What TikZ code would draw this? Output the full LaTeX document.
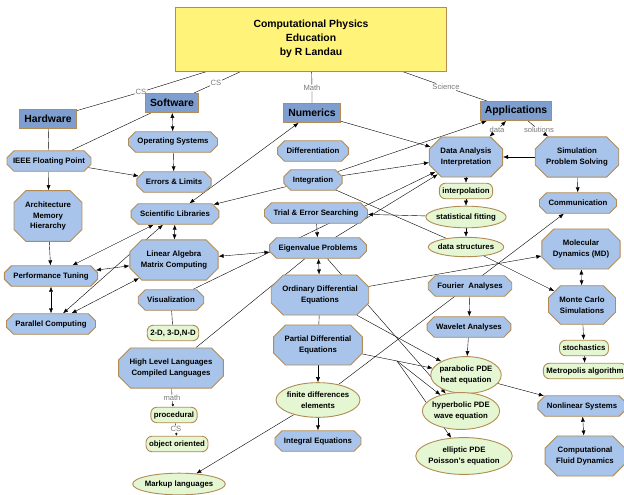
\documentclass[tikz,border=0pt]{standalone}
\usepackage{fontspec}
\setmainfont{Liberation Sans}
\usepackage{tikz}
\usetikzlibrary{arrows.meta}
\usetikzlibrary{shapes.geometric}
\usetikzlibrary{backgrounds}

\definecolor{conceptblue}{RGB}{168,196,234}
\definecolor{topblue}{RGB}{125,158,206}
\definecolor{conceptedge}{RGB}{178,140,84}
\definecolor{leafgreen}{RGB}{228,246,210}
\definecolor{titleyellow}{RGB}{255,243,122}
\definecolor{linkgray}{RGB}{120,120,120}

% octagon with 45 degree corners cut off
\makeatletter
\pgfkeys{/pgf/octagon chamfer/.initial=7pt}
\pgfdeclareshape{conceptoct}{%
  \inheritsavedanchors[from=rectangle]%
  \inheritanchor[from=rectangle]{center}%
  \inheritanchor[from=rectangle]{text}%
  \inheritanchor[from=rectangle]{base}%
  \inheritanchor[from=rectangle]{north}%
  \inheritanchor[from=rectangle]{south}%
  \inheritanchor[from=rectangle]{east}%
  \inheritanchor[from=rectangle]{west}%
  \savedmacro\octcut{%
    \pgfmathsetlength\pgf@xc{\pgfkeysvalueof{/pgf/octagon chamfer}}%
    \edef\octcut{\the\pgf@xc}%
  }%
  \anchorborder{%
    \edef\oct@dx{\the\pgf@x}\edef\oct@dy{\the\pgf@y}%
    \pgf@process{\southwest}\edef\oct@swx{\the\pgf@x}\edef\oct@swy{\the\pgf@y}%
    \pgf@process{\northeast}\edef\oct@nex{\the\pgf@x}\edef\oct@ney{\the\pgf@y}%
    \pgfmathsetmacro\oct@a{(\oct@nex-(\oct@swx))/2}%
    \pgfmathsetmacro\oct@b{(\oct@ney-(\oct@swy))/2}%
    \pgfmathsetmacro\oct@c{min(\octcut,\oct@a,\oct@b)}%
    \pgfmathsetmacro\oct@ux{abs(\oct@dx)}%
    \pgfmathsetmacro\oct@uy{abs(\oct@dy)}%
    \pgfmathsetmacro\oct@m{max(\oct@ux/\oct@a,\oct@uy/\oct@b,(\oct@ux+\oct@uy)/(\oct@a+\oct@b-\oct@c),0.0001)}%
    \pgfmathsetmacro\oct@px{(\oct@nex+(\oct@swx))/2+(\oct@dx)/\oct@m}%
    \pgfmathsetmacro\oct@py{(\oct@ney+(\oct@swy))/2+(\oct@dy)/\oct@m}%
    \pgf@x=\oct@px pt\relax
    \pgf@y=\oct@py pt\relax
  }%
  \backgroundpath{%
    \pgfmathsetlength\pgf@xc{\pgfkeysvalueof{/pgf/outer xsep}}%
    \pgfmathsetlength\pgf@yc{\pgfkeysvalueof{/pgf/outer ysep}}%
    \pgf@process{\southwest}\advance\pgf@x by\pgf@xc\advance\pgf@y by\pgf@yc
    \edef\oct@xa{\the\pgf@x}\edef\oct@ya{\the\pgf@y}%
    \pgf@process{\northeast}\advance\pgf@x by-\pgf@xc\advance\pgf@y by-\pgf@yc
    \edef\oct@xb{\the\pgf@x}\edef\oct@yb{\the\pgf@y}%
    \pgfmathsetmacro\oct@c{min(\octcut,(\oct@yb-(\oct@ya))/2,(\oct@xb-(\oct@xa))/2)}%
    \pgfmathsetmacro\oct@xaa{\oct@xa+\oct@c}\pgfmathsetmacro\oct@xbb{\oct@xb-\oct@c}%
    \pgfmathsetmacro\oct@yaa{\oct@ya+\oct@c}\pgfmathsetmacro\oct@ybb{\oct@yb-\oct@c}%
    \pgfpathmoveto{\pgfpoint{\oct@xaa pt}{\oct@ya}}%
    \pgfpathlineto{\pgfpoint{\oct@xbb pt}{\oct@ya}}%
    \pgfpathlineto{\pgfpoint{\oct@xb}{\oct@yaa pt}}%
    \pgfpathlineto{\pgfpoint{\oct@xb}{\oct@ybb pt}}%
    \pgfpathlineto{\pgfpoint{\oct@xbb pt}{\oct@yb}}%
    \pgfpathlineto{\pgfpoint{\oct@xaa pt}{\oct@yb}}%
    \pgfpathlineto{\pgfpoint{\oct@xa}{\oct@ybb pt}}%
    \pgfpathlineto{\pgfpoint{\oct@xa}{\oct@yaa pt}}%
    \pgfpathclose
  }%
}
\makeatother

\begin{document}
\begin{tikzpicture}[x=1pt, y=-1pt,
    >={Latex[length=5pt,width=4pt]},
    font=\fontsize{7.8}{10.8}\selectfont\bfseries,
    concept/.style={conceptoct, octagon chamfer=7pt, draw=conceptedge, line width=0.9pt,
        fill=conceptblue, align=center, inner xsep=9pt, inner ysep=1pt, minimum height=20.5pt},
    bigconcept/.style={concept, octagon chamfer=12pt, inner xsep=11pt, inner ysep=11pt},
    topic/.style={rectangle, draw=conceptedge, line width=0.9pt, fill=topblue,
        font=\fontsize{10.4}{12}\selectfont\bfseries, inner xsep=4.5pt, minimum height=19pt},
    leaf/.style={rectangle, rounded corners=6pt, draw=conceptedge, line width=0.9pt, fill=leafgreen,
        inner xsep=3pt, minimum height=15.5pt},
    leafoval/.style={ellipse, draw=conceptedge, line width=0.9pt, fill=leafgreen, align=center,
        inner xsep=-1.5pt, inner ysep=4pt},
    linkword/.style={text=linkgray, font=\fontsize{7.6}{9}\selectfont, inner sep=0.5pt},
    link/.style={line width=0.6pt},
    tinytip/.style={-{Latex[length=2.5pt,width=2.5pt]}}]
\useasboundingbox (0,0) rectangle (624,495);

% title and main branches
\node[rectangle, draw=conceptedge, line width=0.9pt, fill=titleyellow, minimum width=271pt, minimum height=64pt,
    align=center, font=\fontsize{10.4}{14}\selectfont\bfseries] (title) at (311,39)
    {Computational Physics\\Education\\by R Landau};
\node[topic] (hardware) at (48,119) {Hardware};
\node[topic] (software) at (172,103) {Software};
\node[topic] (numerics) at (312,113) {Numerics};
\node[topic] (applications) at (516,111) {Applications};

\node[linkword] (lblcs1) at (141,92) {CS};
\node[linkword] (lblcs2) at (216,83) {CS};
\node[linkword] (lblmath) at (312,88) {Math};
\node[linkword] (lblsci) at (446,87) {Science};
\node[linkword] (lbldata) at (497,130) {data};
\node[linkword] (lblsol) at (539,130) {solutions};
\node[linkword] (lblmath2) at (172,398) {math};
\node[linkword] (lblcs3) at (176,429) {CS};

% hardware and software
\node[concept, inner xsep=6pt] (ieee) at (49,161) {IEEE Floating Point};
\node[concept] (opsys) at (173,142) {Operating Systems};
\node[concept] (errors) at (174,182) {Errors \& Limits};
\node[bigconcept] (arch) at (48,216) {Architecture\\Memory\\Hierarchy};
\node[concept] (scilib) at (175,214) {Scientific Libraries};
\node[concept] (perf) at (51,276) {Performance Tuning};
\node[bigconcept] (linalg) at (174,260) {Linear Algebra\\Matrix Computing};
\node[concept] (parallel) at (51,324) {Parallel Computing};
\node[concept] (visual) at (171,300) {Visualization};
\node[leaf] (dims) at (173,333) {2-D, 3-D,N-D};
\node[bigconcept] (highlev) at (171,368) {High Level Languages\\Compiled Languages};
\node[leaf] (procedural) at (174,415) {procedural};
\node[leaf] (objorient) at (177,444) {object oriented};
\node[leafoval] (markup) at (179,484) {Markup languages};

% numerics
\node[concept] (diff) at (313,151) {Differentiation};
\node[concept] (integ) at (313,180) {Integration};
\node[concept] (trial) at (316,213) {Trial \& Error Searching};
\node[concept] (eigen) at (318,248) {Eigenvalue Problems};
\node[bigconcept] (ode) at (320,295) {Ordinary Differential\\Equations};
\node[bigconcept] (pde) at (318,345) {Partial Differential\\Equations};
\node[leafoval] (findiff) at (318,400) {finite differences\\elements};
\node[concept] (integral) at (318,441) {Integral Equations};

% applications
\node[bigconcept] (dataan) at (466,157) {Data Analysis\\Interpretation};
\node[leaf] (interp) at (466,191) {interpolation};
\node[leafoval] (statfit) at (466,217) {statistical fitting};
\node[leafoval] (datastr) at (466,247) {data structures};
\node[bigconcept] (simul) at (577,157) {Simulation\\Problem Solving};
\node[concept] (comm) at (578,203) {Communication};
\node[bigconcept] (md) at (581,249) {Molecular\\Dynamics (MD)};
\node[bigconcept] (montecarlo) at (582,305) {Monte Carlo\\Simulations};
\node[leaf] (stoch) at (584,348) {stochastics};
\node[leaf] (metropolis) at (585,371) {Metropolis algorithm};
\node[concept] (fourier) at (470,286) {Fourier\ \ Analyses};
\node[concept] (wavelet) at (469,327) {Wavelet Analyses};
\node[leafoval] (parabolic) at (466,375) {parabolic PDE\\heat equation};
\node[leafoval] (hyperbolic) at (461,411) {hyperbolic PDE\\wave equation};
\node[leafoval] (elliptic) at (464,456) {elliptic PDE\\Poisson's equation};
\node[concept] (nonlin) at (582,406) {Nonlinear Systems};
\node[bigconcept] (cfd) at (585,456) {Computational\\Fluid Dynamics};

\coordinate (pdejoin) at (397,361);

\begin{scope}[on background layer, link]
    \draw (title) -- (lblcs1) -- (hardware);
    \draw (title) -- (lblcs2) -- (software);
    \draw (title) -- (lblmath) -- (numerics);
    \draw (title) -- (lblsci) -- (applications);
    %%%
    \draw (hardware) -- (ieee);
    \draw (software) -- (ieee);
    \draw[<->] (software) -- (opsys);
    \draw[->] (opsys) -- (errors);
    \draw[->] (ieee) -- (errors);
    \draw[->] (ieee) -- (arch);
    \draw[->] (arch) -- (perf);
    \draw[<->] (perf) -- (parallel);
    \draw[<->] (perf) -- (scilib);
    \draw[<->] (perf) -- (linalg);
    \draw[<->] (parallel) -- (scilib);
    \draw[<->] (parallel) -- (linalg);
    \draw[<->] (scilib) -- (linalg);
    \draw[<->] (numerics) -- (scilib);
    \draw[<->] (linalg) -- (eigen);
    \draw (visual) -- (dims);
    \draw[->] (visual) -- (dataan);
    \draw (highlev) -- (eigen);
    \draw (highlev) -- (lblmath2);
    \draw[tinytip] (lblmath2) -- (procedural);
    \draw (procedural) -- (lblcs3);
    \draw[tinytip] (lblcs3) -- (objorient);
    %%%
    \draw[->] (integ) -- (scilib);
    \draw[->] (integ) -- (applications);
    \draw[->] (integ) -- (dataan);
    \draw (integ) -- (datastr);
    \draw[->] (numerics) -- (dataan);
    \draw[->] (eigen) -- (dataan);
    \draw[->] (statfit) -- (trial);
    \draw[->] (trial) -- (eigen);
    \draw[<->] (eigen) -- (ode);
    \draw (ode) -- (pde);
    \draw[->] (ode) -- (md);
    \draw[->] (ode) -- (parabolic);
    \draw[->] (eigen) -- (hyperbolic);
    \draw (pde) -- (pdejoin);
    \draw[->] (pdejoin) -- (parabolic);
    \draw[->] (pdejoin) -- (hyperbolic);
    \draw[->] (pdejoin) -- (elliptic);
    \draw[->] (pde) -- (findiff);
    \draw[->] (findiff) -- (integral);
    \draw[->] (findiff) -- (markup);
    \draw[->] (findiff) -- (comm);
    %%%
    \draw[<-] (applications) -- (lbldata);
    \draw[->] (lbldata) -- (dataan);
    \draw (applications) -- (lblsol);
    \draw[->] (lblsol) -- (simul);
    \draw[->] (dataan) -- (interp);
    \draw[->] (interp) -- (statfit);
    \draw[->] (statfit) -- (datastr);
    \draw[->] (simul) -- (dataan);
    \draw[->] (simul) -- (comm);
    \draw[->] (datastr) -- (montecarlo);
    \draw[<->] (md) -- (montecarlo);
    \draw[->] (montecarlo) -- (stoch);
    \draw[->] (stoch) -- (metropolis);
    \draw[->] (fourier) -- (wavelet);
    \draw[->] (wavelet) -- (parabolic);
    \draw[->] (parabolic) -- (nonlin);
    \draw[<->] (nonlin) -- (cfd);
\end{scope}
\end{tikzpicture}
\end{document}
